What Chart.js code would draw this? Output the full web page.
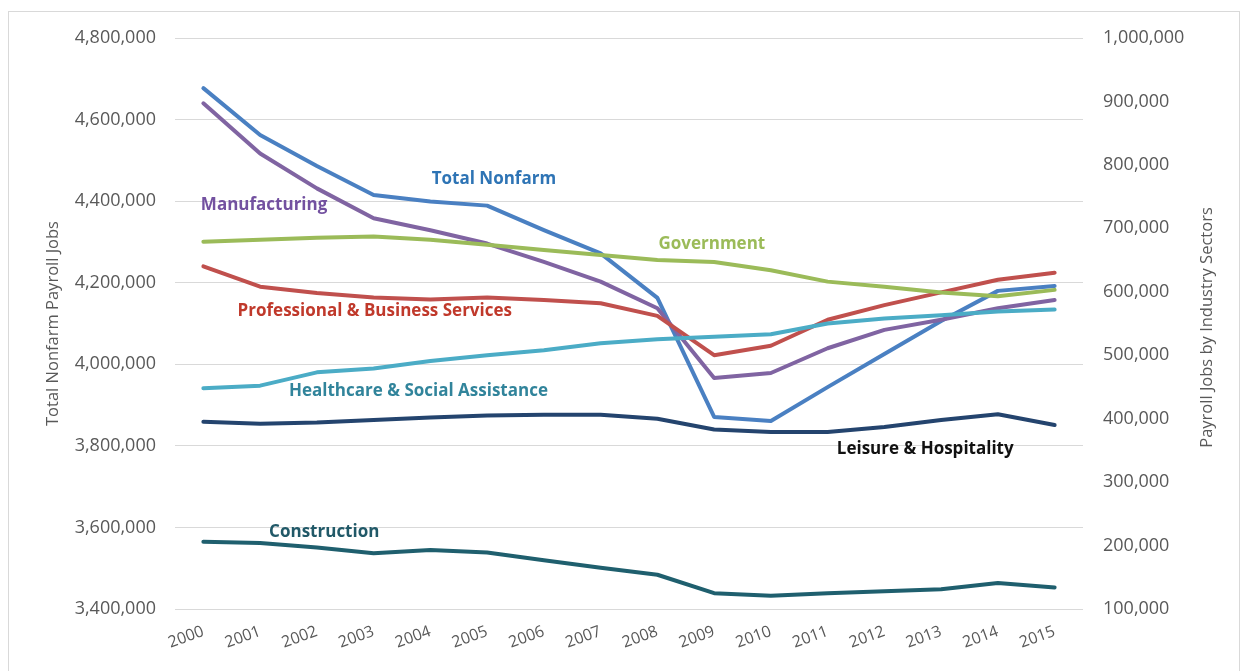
<!DOCTYPE html>
<html>
<head>
<meta charset="utf-8">
<script src="https://cdn.jsdelivr.net/npm/chart.js@4/dist/chart.umd.min.js"></script>
<style>
  html, body { margin: 0; padding: 0; background: #ffffff; }
  #wrap { position: relative; width: 1248px; height: 671px; }
</style>
</head>
<body>
<div id="wrap"><canvas id="jobs" width="1248" height="671"></canvas></div>
<script>
// Payroll jobs, 2000-2015
const years = ['2000', '2001', '2002', '2003', '2004', '2005', '2006', '2007',
               '2008', '2009', '2010', '2011', '2012', '2013', '2014', '2015'];

// Left axis: total nonfarm payroll jobs
const totalNonfarm = [4677000, 4562000, 4486000, 4415000, 4399000, 4389000, 4329000, 4272000,
                      4163000, 3871000, 3861000, 3944000, 4025000, 4106000, 4180000, 4192000];

// Right axis: payroll jobs by industry sector
const manufacturing = [897000, 818000, 763000, 716000, 697000, 676000, 647000, 616000,
                       574000, 464000, 472000, 511000, 540000, 556000, 574000, 587000];
const government = [679000, 682000, 685000, 687000, 682000, 674000, 666000, 658000,
                    650000, 647000, 634000, 616000, 608000, 599000, 593000, 603000];
const professionalBusiness = [640000, 608000, 598000, 591000, 588000, 591000, 587000, 582000,
                              562000, 500000, 515000, 556000, 579000, 599000, 619000, 630000];
const healthcareSocial = [448000, 452000, 473000, 479000, 491000, 500000, 508000, 519000,
                          525000, 529000, 533000, 550000, 558000, 563000, 569000, 572000];
const leisureHospitality = [395000, 392000, 394000, 398000, 402000, 405000, 406000, 406000,
                            400000, 383000, 379000, 379000, 387000, 398000, 407000, 390000];
const construction = [206000, 204000, 197000, 188000, 193000, 189000, 177000, 165000,
                      154000, 125000, 121000, 125000, 128000, 131000, 141000, 134000];

// Axis ranges
const leftMin = 3400000, leftMax = 4800000, leftStep = 200000;
const rightMin = 100000, rightMax = 1000000, rightStep = 100000;

const leftTitle = 'Total Nonfarm Payroll Jobs';
const rightTitle = 'Payroll Jobs by Industry Sectors';

const AXIS_GREY = '#595959';
const TICK_FONT = { family: '"Open Sans", sans-serif', size: 18 };
const TITLE_SIZE = 16.5;
const LABEL_FONT = 'bold 17px "Open Sans", sans-serif';

// Series labels placed on the plot: x = category position, y = right-axis value
const seriesLabels = [
  { text: 'Total Nonfarm', x: 5.12, y: 777800, color: '#2e74b5' },
  { text: 'Manufacturing', x: 1.07, y: 736800, color: '#7351a0' },
  { text: 'Government', x: 8.96, y: 675300, color: '#9bbb59' },
  { text: 'Professional & Business Services', x: 3.02, y: 569700, color: '#c0392b' },
  { text: 'Healthcare & Social Assistance', x: 3.79, y: 443600, color: '#31849b' },
  { text: 'Leisure & Hospitality', x: 12.72, y: 352200, color: '#111111' },
  { text: 'Construction', x: 2.13, y: 221400, color: '#215968' }
];

const frame = {
  id: 'frame',
  beforeDraw(chart) {
    const ctx = chart.ctx;
    ctx.save();
    ctx.fillStyle = '#ffffff';
    ctx.fillRect(0, 0, chart.width, chart.height);
    ctx.strokeStyle = '#d9d9d9';
    ctx.lineWidth = 1;
    ctx.strokeRect(8.5, 11.5, chart.width - 17, chart.height + 20);
    ctx.restore();
  }
};

const annotations = {
  id: 'seriesText',
  afterDatasetsDraw(chart) {
    const ctx = chart.ctx;
    const xs = chart.scales.x, yr = chart.scales.yRight;
    ctx.save();
    ctx.font = LABEL_FONT;
    ctx.textAlign = 'center';
    ctx.textBaseline = 'middle';
    seriesLabels.forEach(l => {
      ctx.fillStyle = l.color;
      ctx.fillText(l.text, xs.getPixelForValue(l.x), yr.getPixelForValue(l.y));
    });
    // right axis title, reading bottom to top
    const ca = chart.chartArea;
    ctx.font = TITLE_SIZE + 'px "Open Sans", sans-serif';
    ctx.fillStyle = AXIS_GREY;
    ctx.translate(1207, (ca.top + ca.bottom) / 2 + 4);
    ctx.rotate(-Math.PI / 2);
    ctx.fillText(rightTitle, 0, 0);
    ctx.restore();
  }
};

function line(label, data, color, axis) {
  return {
    label, data, yAxisID: axis,
    borderColor: color, backgroundColor: color,
    borderWidth: 4, pointRadius: 0, pointHoverRadius: 0,
    tension: 0, fill: false,
    borderCapStyle: 'round', borderJoinStyle: 'round'
  };
}

new Chart(document.getElementById('jobs'), {
  type: 'line',
  data: {
    labels: years,
    datasets: [
      line('Construction', construction, '#1f5f6e', 'yRight'),
      line('Leisure & Hospitality', leisureHospitality, '#24446e', 'yRight'),
      line('Healthcare & Social Assistance', healthcareSocial, '#4bacc6', 'yRight'),
      line('Government', government, '#9bbb59', 'yRight'),
      line('Professional & Business Services', professionalBusiness, '#c0504d', 'yRight'),
      line('Manufacturing', manufacturing, '#8064a2', 'yRight'),
      line('Total Nonfarm', totalNonfarm, '#4a80c2', 'yLeft')
    ]
  },
  options: {
    responsive: false,
    animation: false,
    events: [],
    layout: { padding: { left: 40, right: 30, top: 38, bottom: 0 } },
    plugins: { legend: { display: false }, tooltip: { enabled: false } },
    scales: {
      x: {
        type: 'category',
        offset: true,
        grid: { display: false, drawTicks: false },
        border: { display: false },
        ticks: {
          color: AXIS_GREY, font: { family: '"Open Sans", sans-serif', size: 16 },
          minRotation: 20, maxRotation: 20, padding: 13, autoSkip: false
        },
        afterFit(s) { s.height = 62; }
      },
      yLeft: {
        type: 'linear', position: 'left',
        min: leftMin, max: leftMax,
        grid: { color: '#d9d9d9', lineWidth: 1, drawTicks: false },
        border: { display: false },
        ticks: {
          stepSize: leftStep, color: AXIS_GREY, font: TICK_FONT, padding: 19,
          callback: v => v.toLocaleString('en-US')
        },
        title: {
          display: true, text: leftTitle, color: AXIS_GREY,
          font: { family: '"Open Sans", sans-serif', size: TITLE_SIZE },
          padding: { top: 3, bottom: 0 }
        },
        afterFit(s) { s.width = 135; }
      },
      yRight: {
        type: 'linear', position: 'right',
        min: rightMin, max: rightMax,
        grid: { display: false, drawTicks: false },
        border: { display: false },
        ticks: {
          stepSize: rightStep, color: AXIS_GREY, font: TICK_FONT, padding: 20,
          callback: v => v.toLocaleString('en-US')
        },
        afterFit(s) { s.width = 135; }
      }
    }
  },
  plugins: [frame, annotations]
});
</script>
</body>
</html>
